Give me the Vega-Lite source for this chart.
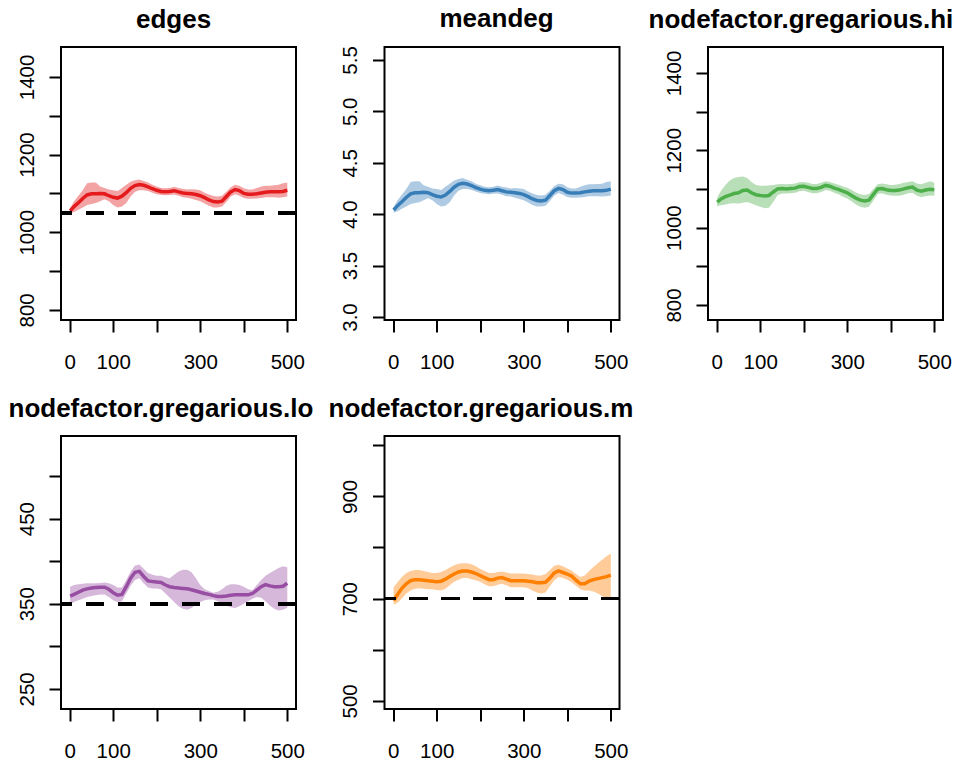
{
  "$schema": "https://vega.github.io/schema/vega-lite/v6.json",
  "padding": {"left": 7, "top": 4, "right": 0, "bottom": 0},
  "background": "white",
  "columns": 3,
  "spacing": {"row": 116, "column": 88.5},
  "bounds": "flush",
  "datasets": {
    "edges": [
      {"t": 1, "mean": 1055, "lo": 1048, "hi": 1062},
      {"t": 10, "mean": 1066, "lo": 1052, "hi": 1080},
      {"t": 20, "mean": 1076, "lo": 1058, "hi": 1094},
      {"t": 30, "mean": 1087, "lo": 1064, "hi": 1108},
      {"t": 40, "mean": 1096, "lo": 1070, "hi": 1126},
      {"t": 50, "mean": 1099, "lo": 1073, "hi": 1128},
      {"t": 60, "mean": 1099, "lo": 1075, "hi": 1128},
      {"t": 70, "mean": 1100, "lo": 1080, "hi": 1118},
      {"t": 80, "mean": 1099, "lo": 1085, "hi": 1114},
      {"t": 90, "mean": 1094, "lo": 1080, "hi": 1110},
      {"t": 100, "mean": 1090, "lo": 1070, "hi": 1108},
      {"t": 110, "mean": 1088, "lo": 1064, "hi": 1106},
      {"t": 120, "mean": 1093, "lo": 1066, "hi": 1114},
      {"t": 130, "mean": 1102, "lo": 1075, "hi": 1122},
      {"t": 140, "mean": 1113, "lo": 1092, "hi": 1130},
      {"t": 150, "mean": 1120, "lo": 1104, "hi": 1134},
      {"t": 160, "mean": 1123, "lo": 1108, "hi": 1136},
      {"t": 170, "mean": 1121, "lo": 1108, "hi": 1132},
      {"t": 180, "mean": 1117, "lo": 1106, "hi": 1128},
      {"t": 190, "mean": 1112, "lo": 1102, "hi": 1122},
      {"t": 200, "mean": 1108, "lo": 1098, "hi": 1118},
      {"t": 210, "mean": 1105, "lo": 1096, "hi": 1114},
      {"t": 220, "mean": 1104, "lo": 1095, "hi": 1113},
      {"t": 230, "mean": 1105, "lo": 1096, "hi": 1114},
      {"t": 240, "mean": 1107, "lo": 1097, "hi": 1117},
      {"t": 250, "mean": 1104, "lo": 1094, "hi": 1114},
      {"t": 260, "mean": 1101, "lo": 1090, "hi": 1112},
      {"t": 270, "mean": 1100, "lo": 1089, "hi": 1110},
      {"t": 280, "mean": 1099, "lo": 1086, "hi": 1111},
      {"t": 290, "mean": 1097, "lo": 1083, "hi": 1110},
      {"t": 300, "mean": 1094, "lo": 1080, "hi": 1108},
      {"t": 310, "mean": 1089, "lo": 1074, "hi": 1102},
      {"t": 320, "mean": 1083, "lo": 1068, "hi": 1097},
      {"t": 330, "mean": 1079, "lo": 1064, "hi": 1093},
      {"t": 340, "mean": 1078, "lo": 1064, "hi": 1092},
      {"t": 350, "mean": 1080, "lo": 1066, "hi": 1094},
      {"t": 360, "mean": 1092, "lo": 1078, "hi": 1104},
      {"t": 370, "mean": 1104, "lo": 1092, "hi": 1116},
      {"t": 380, "mean": 1110, "lo": 1098, "hi": 1122},
      {"t": 390, "mean": 1107, "lo": 1094, "hi": 1120},
      {"t": 400, "mean": 1100, "lo": 1088, "hi": 1113},
      {"t": 410, "mean": 1098, "lo": 1086, "hi": 1110},
      {"t": 420, "mean": 1098, "lo": 1086, "hi": 1110},
      {"t": 430, "mean": 1099, "lo": 1087, "hi": 1114},
      {"t": 440, "mean": 1101, "lo": 1088, "hi": 1118},
      {"t": 450, "mean": 1103, "lo": 1090, "hi": 1120},
      {"t": 460, "mean": 1104, "lo": 1090, "hi": 1120},
      {"t": 470, "mean": 1104, "lo": 1090, "hi": 1121},
      {"t": 480, "mean": 1104, "lo": 1089, "hi": 1122},
      {"t": 490, "mean": 1105, "lo": 1090, "hi": 1126},
      {"t": 500, "mean": 1108, "lo": 1092, "hi": 1128}
    ],
    "meandeg": [
      {"t": 1, "mean": 4.041, "lo": 4.014, "hi": 4.067},
      {"t": 10, "mean": 4.083, "lo": 4.029, "hi": 4.136},
      {"t": 20, "mean": 4.121, "lo": 4.052, "hi": 4.19},
      {"t": 30, "mean": 4.163, "lo": 4.075, "hi": 4.244},
      {"t": 40, "mean": 4.198, "lo": 4.098, "hi": 4.313},
      {"t": 50, "mean": 4.209, "lo": 4.11, "hi": 4.32},
      {"t": 60, "mean": 4.209, "lo": 4.117, "hi": 4.32},
      {"t": 70, "mean": 4.213, "lo": 4.136, "hi": 4.282},
      {"t": 80, "mean": 4.209, "lo": 4.156, "hi": 4.267},
      {"t": 90, "mean": 4.19, "lo": 4.136, "hi": 4.251},
      {"t": 100, "mean": 4.175, "lo": 4.098, "hi": 4.244},
      {"t": 110, "mean": 4.167, "lo": 4.075, "hi": 4.236},
      {"t": 120, "mean": 4.186, "lo": 4.083, "hi": 4.267},
      {"t": 130, "mean": 4.221, "lo": 4.117, "hi": 4.297},
      {"t": 140, "mean": 4.263, "lo": 4.182, "hi": 4.328},
      {"t": 150, "mean": 4.29, "lo": 4.228, "hi": 4.343},
      {"t": 160, "mean": 4.301, "lo": 4.244, "hi": 4.351},
      {"t": 170, "mean": 4.293, "lo": 4.244, "hi": 4.336},
      {"t": 180, "mean": 4.278, "lo": 4.236, "hi": 4.32},
      {"t": 190, "mean": 4.259, "lo": 4.221, "hi": 4.297},
      {"t": 200, "mean": 4.244, "lo": 4.205, "hi": 4.282},
      {"t": 210, "mean": 4.232, "lo": 4.198, "hi": 4.267},
      {"t": 220, "mean": 4.228, "lo": 4.194, "hi": 4.263},
      {"t": 230, "mean": 4.232, "lo": 4.198, "hi": 4.267},
      {"t": 240, "mean": 4.24, "lo": 4.202, "hi": 4.278},
      {"t": 250, "mean": 4.228, "lo": 4.19, "hi": 4.267},
      {"t": 260, "mean": 4.217, "lo": 4.175, "hi": 4.259},
      {"t": 270, "mean": 4.213, "lo": 4.171, "hi": 4.251},
      {"t": 280, "mean": 4.209, "lo": 4.159, "hi": 4.255},
      {"t": 290, "mean": 4.202, "lo": 4.148, "hi": 4.251},
      {"t": 300, "mean": 4.19, "lo": 4.136, "hi": 4.244},
      {"t": 310, "mean": 4.171, "lo": 4.113, "hi": 4.221},
      {"t": 320, "mean": 4.148, "lo": 4.09, "hi": 4.202},
      {"t": 330, "mean": 4.133, "lo": 4.075, "hi": 4.186},
      {"t": 340, "mean": 4.129, "lo": 4.075, "hi": 4.182},
      {"t": 350, "mean": 4.136, "lo": 4.083, "hi": 4.19},
      {"t": 360, "mean": 4.182, "lo": 4.129, "hi": 4.228},
      {"t": 370, "mean": 4.228, "lo": 4.182, "hi": 4.274},
      {"t": 380, "mean": 4.251, "lo": 4.205, "hi": 4.297},
      {"t": 390, "mean": 4.24, "lo": 4.19, "hi": 4.29},
      {"t": 400, "mean": 4.213, "lo": 4.167, "hi": 4.263},
      {"t": 410, "mean": 4.205, "lo": 4.159, "hi": 4.251},
      {"t": 420, "mean": 4.205, "lo": 4.159, "hi": 4.251},
      {"t": 430, "mean": 4.209, "lo": 4.163, "hi": 4.267},
      {"t": 440, "mean": 4.217, "lo": 4.167, "hi": 4.282},
      {"t": 450, "mean": 4.224, "lo": 4.175, "hi": 4.29},
      {"t": 460, "mean": 4.228, "lo": 4.175, "hi": 4.29},
      {"t": 470, "mean": 4.228, "lo": 4.175, "hi": 4.293},
      {"t": 480, "mean": 4.228, "lo": 4.171, "hi": 4.297},
      {"t": 490, "mean": 4.232, "lo": 4.175, "hi": 4.313},
      {"t": 500, "mean": 4.244, "lo": 4.182, "hi": 4.32}
    ],
    "high": [
      {"t": 1, "mean": 1066, "lo": 1055, "hi": 1078},
      {"t": 10, "mean": 1074, "lo": 1058, "hi": 1095},
      {"t": 20, "mean": 1080, "lo": 1060, "hi": 1110},
      {"t": 30, "mean": 1084, "lo": 1062, "hi": 1122},
      {"t": 40, "mean": 1088, "lo": 1063, "hi": 1128},
      {"t": 50, "mean": 1090, "lo": 1062, "hi": 1131},
      {"t": 60, "mean": 1096, "lo": 1064, "hi": 1132},
      {"t": 70, "mean": 1097, "lo": 1066, "hi": 1128},
      {"t": 80, "mean": 1090, "lo": 1062, "hi": 1118},
      {"t": 90, "mean": 1085, "lo": 1058, "hi": 1110},
      {"t": 100, "mean": 1083, "lo": 1054, "hi": 1108},
      {"t": 110, "mean": 1082, "lo": 1050, "hi": 1108},
      {"t": 120, "mean": 1083, "lo": 1051, "hi": 1109},
      {"t": 130, "mean": 1092, "lo": 1066, "hi": 1110},
      {"t": 140, "mean": 1100, "lo": 1084, "hi": 1112},
      {"t": 150, "mean": 1101, "lo": 1088, "hi": 1113},
      {"t": 160, "mean": 1100, "lo": 1088, "hi": 1112},
      {"t": 170, "mean": 1101, "lo": 1089, "hi": 1113},
      {"t": 180, "mean": 1102, "lo": 1090, "hi": 1114},
      {"t": 190, "mean": 1106, "lo": 1094, "hi": 1117},
      {"t": 200, "mean": 1107, "lo": 1095, "hi": 1118},
      {"t": 210, "mean": 1104, "lo": 1092, "hi": 1116},
      {"t": 220, "mean": 1101, "lo": 1089, "hi": 1113},
      {"t": 230, "mean": 1101, "lo": 1089, "hi": 1113},
      {"t": 240, "mean": 1104, "lo": 1092, "hi": 1116},
      {"t": 250, "mean": 1109, "lo": 1097, "hi": 1120},
      {"t": 260, "mean": 1107, "lo": 1095, "hi": 1118},
      {"t": 270, "mean": 1102, "lo": 1090, "hi": 1114},
      {"t": 280, "mean": 1099, "lo": 1086, "hi": 1111},
      {"t": 290, "mean": 1094, "lo": 1080, "hi": 1106},
      {"t": 300, "mean": 1090, "lo": 1075, "hi": 1103},
      {"t": 310, "mean": 1083, "lo": 1068, "hi": 1097},
      {"t": 320, "mean": 1076, "lo": 1060, "hi": 1091},
      {"t": 330, "mean": 1071, "lo": 1054, "hi": 1086},
      {"t": 340, "mean": 1069, "lo": 1051, "hi": 1084},
      {"t": 350, "mean": 1071, "lo": 1054, "hi": 1087},
      {"t": 360, "mean": 1086, "lo": 1070, "hi": 1100},
      {"t": 370, "mean": 1100, "lo": 1087, "hi": 1112},
      {"t": 380, "mean": 1101, "lo": 1089, "hi": 1114},
      {"t": 390, "mean": 1098, "lo": 1085, "hi": 1112},
      {"t": 400, "mean": 1096, "lo": 1083, "hi": 1110},
      {"t": 410, "mean": 1096, "lo": 1082, "hi": 1111},
      {"t": 420, "mean": 1097, "lo": 1082, "hi": 1113},
      {"t": 430, "mean": 1100, "lo": 1085, "hi": 1116},
      {"t": 440, "mean": 1103, "lo": 1089, "hi": 1118},
      {"t": 450, "mean": 1105, "lo": 1090, "hi": 1120},
      {"t": 460, "mean": 1097, "lo": 1082, "hi": 1114},
      {"t": 470, "mean": 1094, "lo": 1079, "hi": 1112},
      {"t": 480, "mean": 1097, "lo": 1081, "hi": 1116},
      {"t": 490, "mean": 1099, "lo": 1083, "hi": 1120},
      {"t": 500, "mean": 1098, "lo": 1082, "hi": 1116}
    ],
    "low": [
      {"t": 1, "mean": 359, "lo": 349, "hi": 370},
      {"t": 10, "mean": 361, "lo": 352, "hi": 372},
      {"t": 20, "mean": 363.5, "lo": 354, "hi": 373},
      {"t": 30, "mean": 366, "lo": 356, "hi": 373.5},
      {"t": 40, "mean": 367.5, "lo": 358, "hi": 374},
      {"t": 50, "mean": 368.5, "lo": 359, "hi": 374},
      {"t": 60, "mean": 369, "lo": 360, "hi": 374},
      {"t": 70, "mean": 369.5, "lo": 361, "hi": 374.5},
      {"t": 80, "mean": 369.5, "lo": 361, "hi": 375},
      {"t": 90, "mean": 367, "lo": 358, "hi": 374},
      {"t": 100, "mean": 363, "lo": 354, "hi": 372},
      {"t": 110, "mean": 360, "lo": 352, "hi": 369},
      {"t": 120, "mean": 361, "lo": 353, "hi": 369},
      {"t": 130, "mean": 370, "lo": 362, "hi": 378},
      {"t": 140, "mean": 380, "lo": 371, "hi": 388},
      {"t": 150, "mean": 387, "lo": 378, "hi": 395},
      {"t": 160, "mean": 388, "lo": 380, "hi": 396},
      {"t": 170, "mean": 382, "lo": 374, "hi": 391},
      {"t": 180, "mean": 377, "lo": 369, "hi": 386},
      {"t": 190, "mean": 376, "lo": 368, "hi": 384},
      {"t": 200, "mean": 375.5, "lo": 368, "hi": 383},
      {"t": 210, "mean": 375, "lo": 367, "hi": 383},
      {"t": 220, "mean": 372, "lo": 362, "hi": 381},
      {"t": 230, "mean": 370, "lo": 357, "hi": 380},
      {"t": 240, "mean": 369, "lo": 352, "hi": 384},
      {"t": 250, "mean": 368.5, "lo": 347, "hi": 388},
      {"t": 260, "mean": 368, "lo": 344, "hi": 390},
      {"t": 270, "mean": 367.5, "lo": 343, "hi": 390},
      {"t": 280, "mean": 366.5, "lo": 345, "hi": 387},
      {"t": 290, "mean": 365, "lo": 349, "hi": 380},
      {"t": 300, "mean": 363.5, "lo": 352, "hi": 372},
      {"t": 310, "mean": 362, "lo": 354, "hi": 367},
      {"t": 320, "mean": 361, "lo": 355, "hi": 365},
      {"t": 330, "mean": 359.5, "lo": 355, "hi": 363},
      {"t": 340, "mean": 358.5, "lo": 353, "hi": 364},
      {"t": 350, "mean": 358.5, "lo": 351, "hi": 367},
      {"t": 360, "mean": 359, "lo": 348, "hi": 371},
      {"t": 370, "mean": 360, "lo": 346, "hi": 373},
      {"t": 380, "mean": 360.5, "lo": 345, "hi": 373},
      {"t": 390, "mean": 360.5, "lo": 347, "hi": 372},
      {"t": 400, "mean": 360.5, "lo": 350, "hi": 370},
      {"t": 410, "mean": 360.5, "lo": 353, "hi": 367},
      {"t": 420, "mean": 362, "lo": 356, "hi": 366},
      {"t": 430, "mean": 366, "lo": 358, "hi": 372},
      {"t": 440, "mean": 370, "lo": 357, "hi": 378},
      {"t": 450, "mean": 372.5, "lo": 353, "hi": 383},
      {"t": 460, "mean": 371, "lo": 348, "hi": 386},
      {"t": 470, "mean": 370, "lo": 344, "hi": 389},
      {"t": 480, "mean": 370, "lo": 342, "hi": 392},
      {"t": 490, "mean": 370.5, "lo": 343, "hi": 394},
      {"t": 500, "mean": 374, "lo": 345, "hi": 393}
    ],
    "med": [
      {"t": 1, "mean": 696, "lo": 688, "hi": 722},
      {"t": 10, "mean": 708, "lo": 692, "hi": 732},
      {"t": 20, "mean": 720, "lo": 700, "hi": 742},
      {"t": 30, "mean": 729, "lo": 710, "hi": 750},
      {"t": 40, "mean": 735, "lo": 716, "hi": 754},
      {"t": 50, "mean": 737, "lo": 719, "hi": 756},
      {"t": 60, "mean": 737, "lo": 720, "hi": 756},
      {"t": 70, "mean": 736, "lo": 719, "hi": 754},
      {"t": 80, "mean": 735, "lo": 718, "hi": 752},
      {"t": 90, "mean": 734, "lo": 718, "hi": 750},
      {"t": 100, "mean": 733, "lo": 717, "hi": 750},
      {"t": 110, "mean": 734, "lo": 716, "hi": 752},
      {"t": 120, "mean": 738, "lo": 719, "hi": 756},
      {"t": 130, "mean": 743, "lo": 726, "hi": 761},
      {"t": 140, "mean": 748, "lo": 733, "hi": 765},
      {"t": 150, "mean": 752, "lo": 737, "hi": 768},
      {"t": 160, "mean": 754, "lo": 740, "hi": 769},
      {"t": 170, "mean": 754, "lo": 740, "hi": 769},
      {"t": 180, "mean": 752, "lo": 738, "hi": 767},
      {"t": 190, "mean": 749, "lo": 736, "hi": 763},
      {"t": 200, "mean": 745, "lo": 733, "hi": 758},
      {"t": 210, "mean": 741, "lo": 728, "hi": 754},
      {"t": 220, "mean": 737, "lo": 724, "hi": 750},
      {"t": 230, "mean": 737, "lo": 724, "hi": 750},
      {"t": 240, "mean": 740, "lo": 727, "hi": 752},
      {"t": 250, "mean": 741, "lo": 729, "hi": 753},
      {"t": 260, "mean": 738, "lo": 726, "hi": 751},
      {"t": 270, "mean": 735, "lo": 722, "hi": 749},
      {"t": 280, "mean": 735, "lo": 722, "hi": 749},
      {"t": 290, "mean": 735, "lo": 722, "hi": 749},
      {"t": 300, "mean": 735, "lo": 722, "hi": 749},
      {"t": 310, "mean": 734, "lo": 720, "hi": 748},
      {"t": 320, "mean": 733, "lo": 716, "hi": 747},
      {"t": 330, "mean": 731, "lo": 712, "hi": 745},
      {"t": 340, "mean": 731, "lo": 710, "hi": 745},
      {"t": 350, "mean": 732, "lo": 712, "hi": 748},
      {"t": 360, "mean": 740, "lo": 724, "hi": 756},
      {"t": 370, "mean": 750, "lo": 736, "hi": 764},
      {"t": 380, "mean": 754, "lo": 742, "hi": 766},
      {"t": 390, "mean": 751, "lo": 740, "hi": 763},
      {"t": 400, "mean": 748, "lo": 737, "hi": 759},
      {"t": 410, "mean": 744, "lo": 732, "hi": 755},
      {"t": 420, "mean": 736, "lo": 725, "hi": 748},
      {"t": 430, "mean": 729, "lo": 718, "hi": 742},
      {"t": 440, "mean": 729, "lo": 716, "hi": 745},
      {"t": 450, "mean": 734, "lo": 716, "hi": 754},
      {"t": 460, "mean": 737, "lo": 714, "hi": 762},
      {"t": 470, "mean": 739, "lo": 710, "hi": 769},
      {"t": 480, "mean": 741, "lo": 705, "hi": 776},
      {"t": 490, "mean": 743, "lo": 700, "hi": 783},
      {"t": 500, "mean": 746, "lo": 697, "hi": 788}
    ]
  },
  "concat": [
    {
      "width": 235, "height": 273,
      "title": {"text": "edges", "dx": 75},
      "data": {"name": "edges"},
      "layer": [
        {
          "mark": {"type": "area", "color": "#E41A1C", "opacity": 0.4},
          "encoding": {
            "x": {"field": "t", "type": "quantitative", "title": null, "scale": {"domain": [-20, 520], "nice": false, "zero": false}, "axis": {"values": [0, 100, 200, 300, 400, 500], "labelExpr": "datum.value == 200 || datum.value == 400 ? '' : datum.label"}},
            "y": {"field": "lo", "type": "quantitative", "title": null, "scale": {"domain": [774, 1477], "nice": false, "zero": false}, "axis": {"values": [800, 900, 1000, 1100, 1200, 1300, 1400], "format": "d", "labelExpr": "datum.value % 200 == 0 ? datum.label : ''"}},
            "y2": {"field": "hi"}
          }
        },
        {
          "mark": {"type": "line", "color": "#E41A1C", "strokeWidth": 3.5},
          "encoding": {
            "x": {"field": "t", "type": "quantitative", "title": null},
            "y": {"field": "mean", "type": "quantitative", "title": null}
          }
        },
        {
          "mark": {"type": "rule", "color": "black", "strokeWidth": 3, "strokeDash": [18, 14]},
          "encoding": {"y": {"datum": 1050}}
        }
      ]
    },
    {
      "width": 235, "height": 273,
      "title": {"text": "meandeg", "dx": 55},
      "data": {"name": "meandeg"},
      "layer": [
        {
          "mark": {"type": "area", "color": "#377EB8", "opacity": 0.4},
          "encoding": {
            "x": {"field": "t", "type": "quantitative", "title": null, "scale": {"domain": [-20, 520], "nice": false, "zero": false}, "axis": {"values": [0, 100, 200, 300, 400, 500], "labelExpr": "datum.value == 200 || datum.value == 400 ? '' : datum.label"}},
            "y": {"field": "lo", "type": "quantitative", "title": null, "scale": {"domain": [2.971, 5.626], "nice": false, "zero": false}, "axis": {"values": [3.0, 3.5, 4.0, 4.5, 5.0, 5.5], "format": ".1f"}},
            "y2": {"field": "hi"}
          }
        },
        {
          "mark": {"type": "line", "color": "#377EB8", "strokeWidth": 3.5},
          "encoding": {
            "x": {"field": "t", "type": "quantitative", "title": null},
            "y": {"field": "mean", "type": "quantitative", "title": null}
          }
        }
      ]
    },
    {
      "width": 235, "height": 273,
      "title": {"text": "nodefactor.gregarious.hi", "dx": -59.5},
      "data": {"name": "high"},
      "layer": [
        {
          "mark": {"type": "area", "color": "#4DAF4A", "opacity": 0.4},
          "encoding": {
            "x": {"field": "t", "type": "quantitative", "title": null, "scale": {"domain": [-20, 520], "nice": false, "zero": false}, "axis": {"values": [0, 100, 200, 300, 400, 500], "labelExpr": "datum.value == 200 || datum.value == 400 ? '' : datum.label"}},
            "y": {"field": "lo", "type": "quantitative", "title": null, "scale": {"domain": [761, 1467], "nice": false, "zero": false}, "axis": {"values": [800, 900, 1000, 1100, 1200, 1300, 1400], "format": "d", "labelExpr": "datum.value % 200 == 0 ? datum.label : ''"}},
            "y2": {"field": "hi"}
          }
        },
        {
          "mark": {"type": "line", "color": "#4DAF4A", "strokeWidth": 3.5},
          "encoding": {
            "x": {"field": "t", "type": "quantitative", "title": null},
            "y": {"field": "mean", "type": "quantitative", "title": null}
          }
        }
      ]
    },
    {
      "width": 235, "height": 273,
      "title": {"text": "nodefactor.gregarious.lo", "dx": -52.5},
      "data": {"name": "low"},
      "layer": [
        {
          "mark": {"type": "area", "color": "#984EA3", "opacity": 0.4},
          "encoding": {
            "x": {"field": "t", "type": "quantitative", "title": null, "scale": {"domain": [-20, 520], "nice": false, "zero": false}, "axis": {"values": [0, 100, 200, 300, 400, 500], "labelExpr": "datum.value == 200 || datum.value == 400 ? '' : datum.label"}},
            "y": {"field": "lo", "type": "quantitative", "title": null, "scale": {"domain": [226.4, 547], "nice": false, "zero": false}, "axis": {"values": [250, 300, 350, 400, 450, 500], "format": "d", "labelExpr": "(datum.value - 250) % 100 == 0 ? datum.label : ''"}},
            "y2": {"field": "hi"}
          }
        },
        {
          "mark": {"type": "line", "color": "#984EA3", "strokeWidth": 3.5},
          "encoding": {
            "x": {"field": "t", "type": "quantitative", "title": null},
            "y": {"field": "mean", "type": "quantitative", "title": null}
          }
        },
        {
          "mark": {"type": "rule", "color": "black", "strokeWidth": 3, "strokeDash": [18, 14]},
          "encoding": {"y": {"datum": 350}}
        }
      ]
    },
    {
      "width": 235, "height": 273,
      "title": {"text": "nodefactor.gregarious.m", "dx": -56},
      "data": {"name": "med"},
      "layer": [
        {
          "mark": {"type": "area", "color": "#FF7F00", "opacity": 0.4},
          "encoding": {
            "x": {"field": "t", "type": "quantitative", "title": null, "scale": {"domain": [-20, 520], "nice": false, "zero": false}, "axis": {"values": [0, 100, 200, 300, 400, 500], "labelExpr": "datum.value == 200 || datum.value == 400 ? '' : datum.label"}},
            "y": {"field": "lo", "type": "quantitative", "title": null, "scale": {"domain": [484, 1018], "nice": false, "zero": false}, "axis": {"values": [500, 600, 700, 800, 900, 1000], "format": "d", "labelExpr": "(datum.value - 500) % 200 == 0 ? datum.label : ''"}},
            "y2": {"field": "hi"}
          }
        },
        {
          "mark": {"type": "line", "color": "#FF7F00", "strokeWidth": 3.5},
          "encoding": {
            "x": {"field": "t", "type": "quantitative", "title": null},
            "y": {"field": "mean", "type": "quantitative", "title": null}
          }
        },
        {
          "mark": {"type": "rule", "color": "black", "strokeWidth": 3, "strokeDash": [18, 14]},
          "encoding": {"y": {"datum": 700}}
        }
      ]
    }
  ],
  "config": {
    "font": "Liberation Sans",
    "view": {"stroke": "black", "strokeWidth": 2, "fill": null},
    "title": {"font": "Liberation Sans", "fontSize": 26, "fontWeight": "bold", "color": "black", "baseline": "alphabetic", "offset": 14, "frame": "group", "anchor": "start"},
    "axis": {"grid": false, "domain": false, "ticks": true, "tickSize": 12, "tickWidth": 2, "tickColor": "black", "labelColor": "black", "labelFont": "Liberation Sans", "labelFontSize": 20.5, "labelOverlap": false, "labelFlush": false},
    "axisX": {"labelBaseline": "alphabetic", "labelPadding": 36},
    "axisY": {"labelAngle": 270, "labelAlign": "center", "labelBaseline": "middle", "labelPadding": 22}
  }
}
